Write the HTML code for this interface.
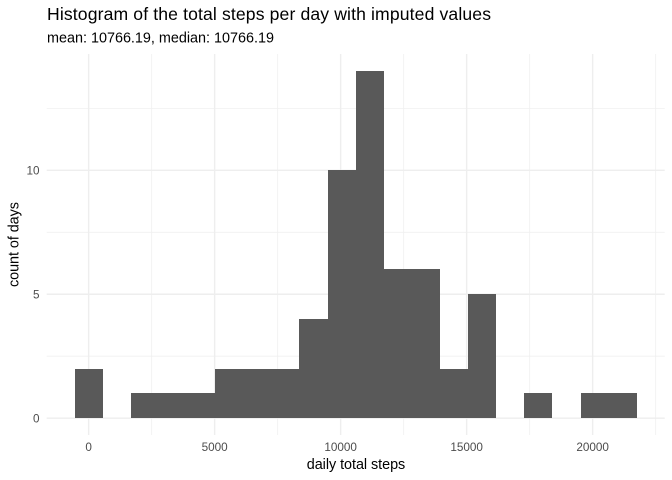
<!DOCTYPE html>
<html>
<head>
<meta charset="utf-8">
<title>Histogram of the total steps per day</title>
<style>
html,body{margin:0;padding:0;background:#fff;width:672px;height:480px;overflow:hidden}
svg{display:block}
text{font-family:"Liberation Sans",Arial,sans-serif}
</style>
</head>
<body>
<svg id="chart" width="672" height="480" viewBox="0 0 672 480" xmlns="http://www.w3.org/2000/svg">
  <rect width="672" height="480" fill="#fff"/>
  <g id="grid"></g>
  <g id="bars" shape-rendering="crispEdges"></g>
  <g id="ticks"></g>
  <text x="47" y="20" font-size="17.6" textLength="444" lengthAdjust="spacing" fill="#000">Histogram of the total steps per day with imputed values</text>
  <text x="47" y="42.6" font-size="14.4" textLength="227" lengthAdjust="spacing" fill="#000">mean: 10766.19, median: 10766.19</text>
  <text x="356" y="469" font-size="14.4" fill="#000" text-anchor="middle" textLength="98.5" lengthAdjust="spacing">daily total steps</text>
  <text transform="translate(18.5,244.5) rotate(-90)" font-size="14.4" fill="#000" text-anchor="middle" textLength="85" lengthAdjust="spacing">count of days</text>
</svg>
<script>
var binCounts = [2, 0, 1, 1, 1, 2, 2, 2, 4, 10, 14, 6, 6, 2, 5, 0, 1, 0, 1, 1];
var binWidth = 1115.5;
var firstBinCenter = 0;
var xMajorTicks = [0, 5000, 10000, 15000, 20000];
var xMinorTicks = [2500, 7500, 12500, 17500, 22500];
var yMajorTicks = [0, 5, 10];
var yMinorTicks = [2.5, 7.5, 12.5];

var NS = 'http://www.w3.org/2000/svg';
var panel = {left: 46.7, right: 664.7, top: 54, bottom: 435};
function xScale(v) { return 88.65 + v * 0.0252; }
function yScale(v) { return 418.15 - v * 24.78; }
function make(tag, attrs, parent) {
  var el = document.createElementNS(NS, tag);
  for (var k in attrs) { el.setAttribute(k, attrs[k]); }
  parent.appendChild(el);
  return el;
}
var grid = document.getElementById('grid');
var bars = document.getElementById('bars');
var ticks = document.getElementById('ticks');

yMinorTicks.forEach(function (v) {
  var el = make('line', {x1: panel.left, x2: panel.right, y1: yScale(v), y2: yScale(v), stroke: '#f0f0f0', 'stroke-width': 0.8}, grid);
  
  
});
xMinorTicks.forEach(function (v) {
  var el = make('line', {x1: xScale(v), x2: xScale(v), y1: panel.top, y2: panel.bottom, stroke: '#f0f0f0', 'stroke-width': 0.8}, grid);
  
  
});
yMajorTicks.forEach(function (v) {
  var el = make('line', {x1: panel.left, x2: panel.right, y1: yScale(v), y2: yScale(v), stroke: '#eeeeee', 'stroke-width': 1.4}, grid);
  
  
  var t = make('text', {x: 39.5, y: yScale(v) + 4.1, 'font-size': 11.73, fill: '#4d4d4d', 'text-anchor': 'end'}, ticks);
  t.textContent = String(v);
  
  
});
xMajorTicks.forEach(function (v) {
  var el = make('line', {x1: xScale(v), x2: xScale(v), y1: panel.top, y2: panel.bottom, stroke: '#eeeeee', 'stroke-width': 1.4}, grid);
  
  
  var t = make('text', {x: xScale(v), y: 451, 'font-size': 11.73, fill: '#4d4d4d', 'text-anchor': 'middle'}, ticks);
  t.textContent = String(v);
  
  
});
binCounts.forEach(function (count, i) {
  if (count === 0) { return; }
  var center = firstBinCenter + i * binWidth;
  var x0 = Math.round(xScale(center - binWidth / 2));
  var x1 = Math.round(xScale(center + binWidth / 2));
  var top = Math.round(yScale(count));
  var base = Math.round(yScale(0));
  var r = make('rect', {x: x0, y: top, width: x1 - x0, height: base - top, fill: '#595959'}, bars);
  
  
});
</script>
</body>
</html>
